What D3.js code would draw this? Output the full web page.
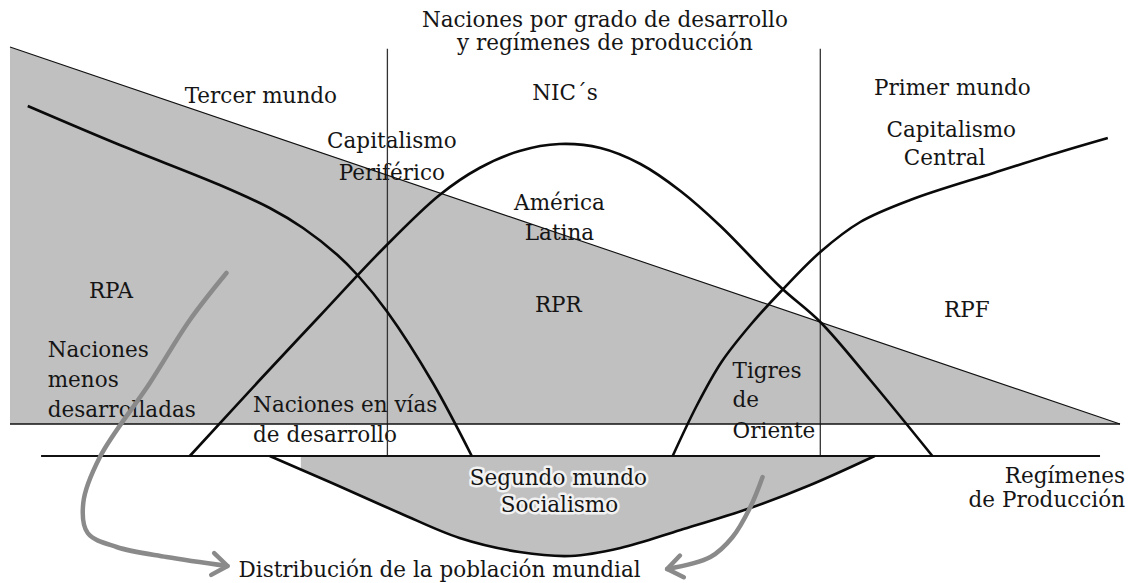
<!DOCTYPE html>
<html>
<head>
<meta charset="utf-8">
<script src="https://cdnjs.cloudflare.com/ajax/libs/d3/7.8.5/d3.min.js"></script>
<style>
  body { margin: 0; background: #fff; }
  text { font-family: 'DejaVu Serif', serif; font-size: 21.5px; fill: #151515; }
</style>
</head>
<body>
<div id="chart"></div>
<script>
// unidades del diagrama: x = grado de desarrollo (0-100), y = nivel (0 = linea de regimenes)
const triangle = [[0, 102.25], [100, 8], [0, 8]];
const baseline = [2.8, 98.2];
const dividers = [34, 73];
const dividerTop = 101.8;

const rpaCurve = [[1.6, 87.5], [9.9, 77.75], [18.9, 67.75], [23.4, 62], [26.4, 57],
  [29.5, 50.25], [31.3, 45.25], [34, 36], [38.1, 18.25], [41.6, 0]];

const nicCurve = [[16.2, 0], [22.5, 19], [27.9, 35], [33.5, 51.5], [38.7, 65.25], [42.3, 72],
  [45.9, 76.25], [49.5, 78], [53.2, 77], [56.8, 73], [60.4, 66.25], [64, 57.5],
  [69.4, 42.25], [73, 33.5], [77.5, 19], [83.1, 0]];

const rpfCurve = [[59.7, 0], [61.9, 12.75], [64.1, 23.5], [66.7, 32.75], [69.4, 41], [73, 51],
  [76.6, 58.5], [81.1, 64], [88.6, 70.75], [94.6, 76], [98.9, 79.5]];

const poblacion = [[23.4, 0], [28.8, -6.5], [35.1, -14.25], [40.5, -20.5], [45.9, -24],
  [50.5, -25], [55, -23], [60.4, -18.5], [66.7, -13], [72.1, -7.25], [77.9, 0]];
const fillStart = 26.2;

const arrowLeft = [[19.5, 45.75], [16.2, 34], [12.6, 18.25], [8.1, -0.25], [6.6, -11.75],
  [7, -19.25], [9.6, -22.75], [14.1, -25.25], [19.6, -27.5]];
const arrowRight = [[67.8, -5.25], [66.7, -12.75], [65.1, -20.25], [63.1, -25.25], [59.2, -28.25]];

// [texto, x, y, anchor]
const labels = [
  ['Naciones por grado de desarrollo', 53.6, 107.25, 'middle'],
  ['y regímenes de producción', 53.6, 101.5, 'middle'],
  ['NIC´s', 50, 89, 'middle'],
  ['Tercer mundo', 22.6, 88.25, 'middle'],
  ['Capitalismo', 34.4, 77, 'middle'],
  ['Periférico', 34.4, 69, 'middle'],
  ['América', 49.5, 61.5, 'middle'],
  ['Latina', 49.5, 54, 'middle'],
  ['Primer mundo', 84.9, 90.25, 'middle'],
  ['Capitalismo', 84.8, 79.75, 'middle'],
  ['Central', 84.2, 72.75, 'middle'],
  ['RPF', 86.2, 34.75, 'middle'],
  ['RPR', 49.4, 36, 'middle'],
  ['RPA', 9.1, 39.5, 'middle'],
  ['Naciones', 3.4, 24.75, 'start'],
  ['menos', 3.4, 17.25, 'start'],
  ['desarrolladas', 3.4, 9.75, 'start'],
  ['Naciones en vías', 21.9, 11, 'start'],
  ['de desarrollo', 21.9, 3.5, 'start'],
  ['Tigres', 65.1, 19.5, 'start'],
  ['de', 65.1, 12.25, 'start'],
  ['Oriente', 65.1, 4.5, 'start'],
  ['Regímenes', 100.45, -6.75, 'end'],
  ['de Producción', 100.45, -12.75, 'end'],
  ['Distribución de la población mundial', 38.7, -30.25, 'middle']
];
const socialLabels = [['Segundo mundo', 49.4, -7.25], ['Socialismo', 49.5, -14]];

const width = 1133, height = 583;
const x = d3.scaleLinear().domain([0, 100]).range([10, 1120]);
const y = d3.scaleLinear().domain([0, 100]).range([456, 56]);

const svg = d3.select('#chart')
  .append('svg')
  .attr('width', width)
  .attr('height', height);

const defs = svg.append('defs');
defs.append('clipPath')
  .attr('id', 'fillclip')
  .append('rect')
  .attr('x', x(fillStart))
  .attr('y', 0)
  .attr('width', width)
  .attr('height', height);
defs.append('marker')
  .attr('id', 'chev')
  .attr('viewBox', '-22 -16 26 32')
  .attr('markerUnits', 'userSpaceOnUse')
  .attr('markerWidth', 26)
  .attr('markerHeight', 32)
  .attr('refX', 0)
  .attr('refY', 0)
  .attr('orient', 'auto')
  .append('path')
  .attr('d', 'M-15,-11 L0,0 L-15,11')
  .attr('fill', 'none')
  .attr('stroke', '#8a8a8a')
  .attr('stroke-width', 4.5)
  .attr('stroke-linecap', 'round')
  .attr('stroke-linejoin', 'round');

// zona gris (triangulo)
svg.append('polygon')
  .attr('points', triangle.map(d => x(d[0]) + ',' + y(d[1])).join(' '))
  .attr('fill', '#c0c0c0');

// zona gris bajo la linea de regimenes
const area = d3.area()
  .x(d => x(d[0]))
  .y0(y(0))
  .y1(d => y(d[1]))
  .curve(d3.curveMonotoneX);
svg.append('path')
  .attr('d', area(poblacion))
  .attr('clip-path', 'url(#fillclip)')
  .attr('fill', '#c0c0c0');

// textos
svg.selectAll('text.lbl')
  .data(labels)
  .enter()
  .append('text')
  .attr('class', 'lbl')
  .attr('x', d => x(d[1]))
  .attr('y', d => y(d[2]))
  .attr('text-anchor', d => d[3])
  .text(d => d[0]);

svg.selectAll('text.soc')
  .data(socialLabels)
  .enter()
  .append('text')
  .attr('class', 'soc')
  .attr('x', d => x(d[1]))
  .attr('y', d => y(d[2]))
  .attr('text-anchor', 'middle')
  .style('paint-order', 'stroke')
  .style('stroke', '#f2f2f2')
  .style('stroke-width', 5)
  .style('stroke-linejoin', 'round')
  .text(d => d[0]);

// divisiones verticales
svg.selectAll('line.div')
  .data(dividers)
  .enter()
  .append('line')
  .attr('class', 'div')
  .attr('x1', d => x(d))
  .attr('x2', d => x(d))
  .attr('y1', y(0))
  .attr('y2', y(dividerTop))
  .attr('stroke', '#333')
  .attr('stroke-width', 1.3);

// bordes del triangulo
svg.append('line')
  .attr('x1', x(triangle[0][0])).attr('y1', y(triangle[0][1]))
  .attr('x2', x(triangle[1][0])).attr('y2', y(triangle[1][1]))
  .attr('stroke', '#111')
  .attr('stroke-width', 1.1);
svg.append('line')
  .attr('x1', x(triangle[2][0])).attr('y1', y(triangle[2][1]))
  .attr('x2', x(triangle[1][0])).attr('y2', y(triangle[1][1]))
  .attr('stroke', '#111')
  .attr('stroke-width', 1.6);

// linea de regimenes de produccion
svg.append('line')
  .attr('x1', x(baseline[0])).attr('y1', y(0))
  .attr('x2', x(baseline[1])).attr('y2', y(0))
  .attr('stroke', '#111')
  .attr('stroke-width', 2.2);

const line = d3.line()
  .x(d => x(d[0]))
  .y(d => y(d[1]))
  .curve(d3.curveCatmullRom.alpha(0.5));

svg.selectAll('path.curve')
  .data([rpaCurve, nicCurve, rpfCurve, poblacion])
  .enter()
  .append('path')
  .attr('class', 'curve')
  .attr('d', line)
  .attr('fill', 'none')
  .attr('stroke', '#0a0a0a')
  .attr('stroke-width', 2.6);

// flechas de distribucion
svg.selectAll('path.arrow')
  .data([arrowLeft, arrowRight])
  .enter()
  .append('path')
  .attr('class', 'arrow')
  .attr('d', line)
  .attr('fill', 'none')
  .attr('stroke', '#8a8a8a')
  .attr('stroke-width', 4.5)
  .attr('stroke-linecap', 'round')
  .attr('marker-end', 'url(#chev)');
</script>
</body>
</html>
